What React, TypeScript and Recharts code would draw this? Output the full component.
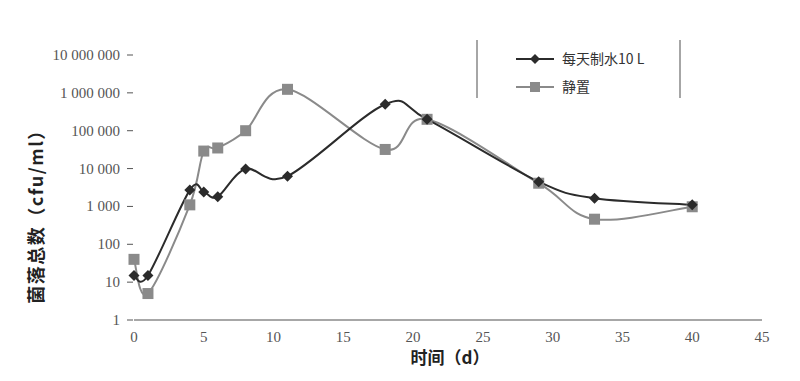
import React from 'react';
import { LineChart, Line, XAxis, YAxis } from 'recharts';

const days = [0, 1, 4, 5, 6, 8, 11, 18, 21, 29, 33, 40];
const dailyWater = [15, 15, 2700, 2400, 1800, 9800, 6300, 500000, 200000, 4500, 1650, 1100];
const standing = [40, 5, 1100, 29000, 35000, 100000, 1240000, 32000, 200000, 4100, 460, 980];
const yTicks = [1, 10, 100, 1000, 10000, 100000, 1000000, 10000000];
const xTicks = [0, 5, 10, 15, 20, 25, 30, 35, 40, 45];
const seriesNames = ['每天制水10 L', '静置'];

const data = days.map((d, i) => ({ day: d, a: dailyWater[i], b: standing[i] }));

const fmt = (v: number) => String(v).replace(/\B(?=(\d{3})+(?!\d))/g, ' ');
const SERIF = 'Liberation Serif';
const CJK = 'Noto Sans CJK SC';

// Excel-like smoothed line (Catmull-Rom style Bezier)
const smoothCurve: any = (context: any) => {
  let pts: [number, number][] = [];
  return {
    areaStart() {},
    areaEnd() {},
    lineStart() { pts = []; },
    point(x: number, y: number) { pts.push([+x, +y]); },
    lineEnd() {
      const n = pts.length;
      if (!n) return;
      context.moveTo(pts[0][0], pts[0][1]);
      const t = 1 / 6;
      for (let i = 0; i < n - 1; i++) {
        const p0 = pts[i - 1] || pts[i];
        const p1 = pts[i];
        const p2 = pts[i + 1];
        const p3 = pts[i + 2] || p2;
        context.bezierCurveTo(
          p1[0] + (p2[0] - p0[0]) * t, p1[1] + (p2[1] - p0[1]) * t,
          p2[0] - (p3[0] - p1[0]) * t, p2[1] - (p3[1] - p1[1]) * t,
          p2[0], p2[1]
        );
      }
    },
  };
};

const Diamond = (props: any) => {
  const { cx, cy } = props;
  if (cx == null || cy == null) return null;
  const s = 5.5;
  return <path d={`M${cx},${cy - s}L${cx + s},${cy}L${cx},${cy + s}L${cx - s},${cy}Z`} fill="#2b2b2b" />;
};

const Square = (props: any) => {
  const { cx, cy } = props;
  if (cx == null || cy == null) return null;
  const s = 5.5;
  return <rect x={cx - s} y={cy - s} width={2 * s} height={2 * s} fill="#8a8a8a" />;
};

const XTick = (props: any) => {
  const { x, y, payload } = props;
  return (
    <text x={x} y={y + 14} textAnchor="middle" fontFamily={SERIF} fontSize="15px" fill="#555">
      {payload.value}
    </text>
  );
};

const YTick = (props: any) => {
  const { x, y, payload } = props;
  return (
    <g>
      <line x1={x + 1} y1={y} x2={x + 7} y2={y} stroke="#555" strokeWidth={1} />
      <text x={x - 6} y={y + 5} textAnchor="end" fontFamily={SERIF} fontSize="15px" fill="#555">
        {fmt(payload.value)}
      </text>
    </g>
  );
};

const YTitle = () => (
  <text
    x={0}
    y={0}
    transform="translate(43,212) rotate(-90)"
    textAnchor="middle"
    fontFamily={CJK}
    fontSize={18}
    fontWeight="bold"
    fill="#222"
    letterSpacing={1.5}
  >
    菌落总数（cfu/ml）
  </text>
);

const XTitle = () => (
  <text x={450} y={364} textAnchor="middle" fontFamily={CJK} fontSize={17} fontWeight="bold" fill="#222">
    时间（d）
  </text>
);

const LegendBox = () => (
  <svg width={212} height={62} style={{ position: 'absolute', left: 476, top: 40, overflow: 'visible' }}>
    <line x1={1} y1={0} x2={1} y2={58} stroke="#888" strokeWidth={1.5} />
    <line x1={204} y1={0} x2={204} y2={58} stroke="#888" strokeWidth={1.5} />
    <line x1={40} y1={19} x2={78} y2={19} stroke="#2b2b2b" strokeWidth={2} />
    <path d="M59,14L64,19L59,24L54,19Z" fill="#2b2b2b" />
    <text x={86} y={24} fontSize={14} fill="#333" fontFamily={CJK}>{seriesNames[0]}</text>
    <line x1={40} y1={47} x2={78} y2={47} stroke="#8a8a8a" strokeWidth={2} />
    <rect x={54} y={42} width={10} height={10} fill="#8a8a8a" />
    <text x={86} y={52} fontSize={14} fill="#333" fontFamily={CJK}>{seriesNames[1]}</text>
  </svg>
);

export default function App() {
  return (
    <div style={{ position: 'absolute', left: 0, top: 0, width: 800, height: 381, background: '#fff' }}>
      <LineChart width={800} height={381} data={data} margin={{ top: 55, right: 38, bottom: 31, left: 34 }}>
        <XAxis
          dataKey="day"
          type="number"
          domain={[0, 45]}
          ticks={xTicks}
          height={30}
          axisLine={{ stroke: '#8a8a8a', strokeWidth: 1.5 }}
          tickLine={false}
          tick={<XTick />}
          label={<XTitle />}
        />
        <YAxis
          scale="log"
          domain={[1, 10000000]}
          ticks={yTicks}
          allowDataOverflow
          width={100}
          axisLine={false}
          tickLine={false}
          tick={<YTick />}
          label={<YTitle />}
        />
        <Line
          dataKey="b"
          name={seriesNames[1]}
          type={smoothCurve}
          stroke="#8a8a8a"
          strokeWidth={2}
          dot={<Square />}
          activeDot={false}
          isAnimationActive={false}
        />
        <Line
          dataKey="a"
          name={seriesNames[0]}
          type={smoothCurve}
          stroke="#2b2b2b"
          strokeWidth={2}
          dot={<Diamond />}
          activeDot={false}
          isAnimationActive={false}
        />
      </LineChart>
      <LegendBox />
    </div>
  );
}
